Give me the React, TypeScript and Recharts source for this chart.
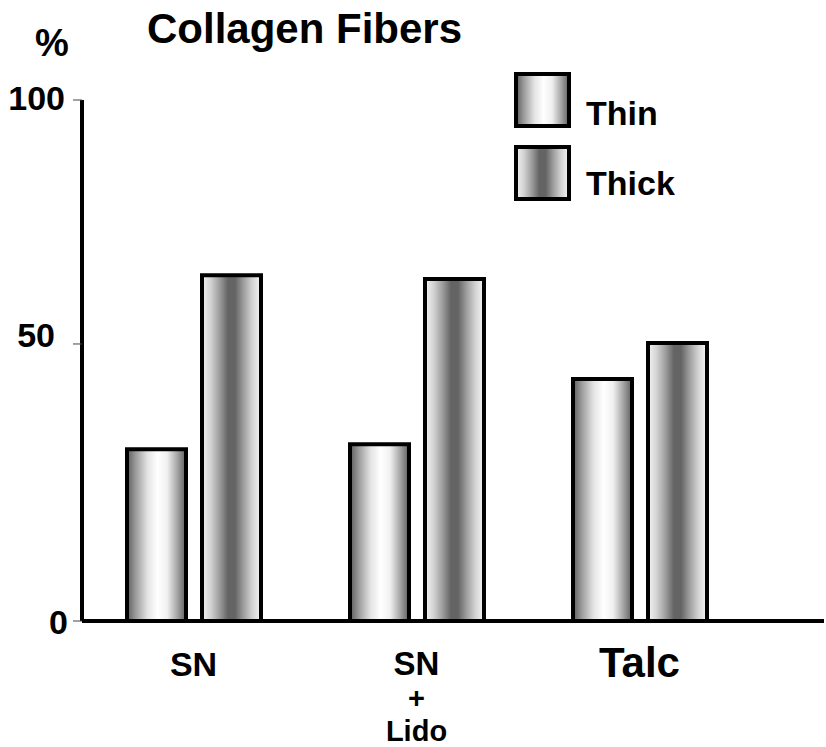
import React from 'react';
import { BarChart, Bar, XAxis, YAxis, Legend } from 'recharts';

// ---------- data ----------
const categories = ['SN', 'SN\n+\nLido', 'Talc'];
const thinValues = [31.0, 31.9, 43.7];
const thickValues = [64.1, 63.3, 50.2];
const yTicks = [0, 50, 100];
const seriesNames = ['Thin', 'Thick'];
const titleText = 'Collagen Fibers';
const unitText = '%';

// the reference's value axis is unevenly spaced: 0-50 takes a larger share of the height than 50-100
const yKnots = [0, 50, 100];
const yKnotFractions = [0, 0.5317, 1];

const data = categories.map((c, i) => ({ category: c, thin: thinValues[i], thick: thickValues[i] }));

const FONT = '"Liberation Sans", Arial, Helvetica, sans-serif';

function makeKnotScale(knots: number[], fr: number[]): any {
  let dom: number[] = [knots[0], knots[knots.length - 1]];
  let rng: number[] = [0, 1];
  const k0 = knots[0];
  const kN = knots[knots.length - 1];
  const frac = (v: number) => {
    const kv = k0 + ((v - dom[0]) / (dom[1] - dom[0])) * (kN - k0);
    for (let i = 0; i < knots.length - 1; i++) {
      if (kv <= knots[i + 1] || i === knots.length - 2) {
        const t = (kv - knots[i]) / (knots[i + 1] - knots[i]);
        return fr[i] + t * (fr[i + 1] - fr[i]);
      }
    }
    return 0;
  };
  const unfrac = (f: number) => {
    for (let i = 0; i < knots.length - 1; i++) {
      if (f <= fr[i + 1] || i === knots.length - 2) {
        const t = (f - fr[i]) / (fr[i + 1] - fr[i]);
        const kv = knots[i] + t * (knots[i + 1] - knots[i]);
        return dom[0] + ((kv - k0) / (kN - k0)) * (dom[1] - dom[0]);
      }
    }
    return dom[0];
  };
  const scale: any = (v: any) => rng[0] + frac(Number(v)) * (rng[1] - rng[0]);
  scale.domain = (d?: any[]) => {
    if (d === undefined) return dom.slice();
    dom = d.map(Number);
    return scale;
  };
  scale.range = (r?: any[]) => {
    if (r === undefined) return rng.slice();
    rng = r.map(Number);
    return scale;
  };
  scale.copy = () => makeKnotScale(knots, fr).domain(dom).range(rng);
  scale.invert = (y: number) => unfrac((y - rng[0]) / (rng[1] - rng[0]));
  scale.ticks = () => knots.slice();
  scale.tickFormat = () => (v: any) => String(v);
  scale.nice = () => scale;
  scale.clamp = () => scale;
  return scale;
}

const yScale = makeKnotScale(yKnots, yKnotFractions);

const thinStops: [number, string][] = [
  [0, '#5c5c5c'], [0.15, '#9c9c9c'], [0.35, '#e4e4e4'], [0.52, '#ffffff'],
  [0.68, '#f0f0f0'], [0.85, '#a6a6a6'], [1, '#5e5e5e'],
];
const thickStops: [number, string][] = [
  [0, '#f4f4f4'], [0.15, '#d2d2d2'], [0.3, '#9c9c9c'], [0.44, '#646464'],
  [0.56, '#646464'], [0.7, '#9c9c9c'], [0.85, '#d2d2d2'], [1, '#f6f6f6'],
];

const Grad = ({ id, stops }: { id: string; stops: [number, string][] }) => (
  <linearGradient id={id} x1="0" y1="0" x2="1" y2="0">
    {stops.map(([o, c]) => (
      <stop key={o} offset={o} stopColor={c} />
    ))}
  </linearGradient>
);

const yLabelNudge: Record<string, { dx: number; dy: number }> = {
  '0': { dx: 3, dy: 13 },
  '50': { dx: -10, dy: 3 },
  '100': { dx: 0, dy: 10 },
};

const YTick = (props: any) => {
  const { x, y, payload } = props;
  const label = String(payload.value);
  const n = yLabelNudge[label] || { dx: 0, dy: 12 };
  return (
    <text x={x + n.dx} y={y + n.dy} textAnchor="end" fontFamily={FONT} fontWeight="bold" fontSize={34} fill="#000">
      {label}
    </text>
  );
};

const xFontSize: Record<string, number> = { Talc: 42 };

const XTick = (props: any) => {
  const { x, y, payload } = props;
  const lines = String(payload.value).split('\n');
  const multi = lines.length > 1;
  const fs = !multi && xFontSize[lines[0]] ? xFontSize[lines[0]] : multi ? 33 : 34;
  const baseDy = multi ? 54 : fs > 34 ? 56 : 55;
  return (
    <text x={x} y={y + baseDy} textAnchor="middle" fontFamily={FONT} fontWeight="bold" fontSize={fs} fill="#000">
      {lines.map((ln, i) => (
        <tspan key={i} x={x} dy={i === 0 ? 0 : i === 1 ? 33.3 : 32.3} fontSize={i === 0 ? fs : 29}>
          {ln}
        </tspan>
      ))}
    </text>
  );
};

const LegendContent = () => (
  <svg width={200} height={150} style={{ display: 'block' }}>
    <defs>
      <Grad id="legThin" stops={thinStops} />
      <Grad id="legThick" stops={thickStops} />
    </defs>
    {seriesNames.map((name, i) => (
      <g key={name}>
        <rect
          x={7}
          y={9 + i * 73}
          width={53}
          height={52}
          fill={i === 0 ? 'url(#legThin)' : 'url(#legThick)'}
          stroke="#000"
          strokeWidth={4}
        />
        <text x={77} y={60 + i * 70} fontFamily={FONT} fontWeight="bold" fontSize={34} fill="#000">
          {name}
        </text>
      </g>
    ))}
  </svg>
);

export default function App() {
  return (
    <div style={{ position: 'absolute', left: 0, top: 0, width: 826, height: 747, background: '#fff' }}>
      <BarChart
        width={826}
        height={747}
        data={data}
        margin={{ top: 100, right: 2, bottom: 0, left: 0 }}
        barSize={59}
        barGap={16}
      >
        <defs>
          <Grad id="thinGrad" stops={thinStops} />
          <Grad id="thickGrad" stops={thickStops} />
        </defs>
        <text x={147} y={43} fontFamily={FONT} fontWeight="bold" fontSize={42} fill="#000">
          {titleText}
        </text>
        <text x={35} y={56} fontFamily={FONT} fontWeight="bold" fontSize={38} fill="#000">
          {unitText}
        </text>
        <XAxis
          dataKey="category"
          type="category"
          height={126}
          padding={{ left: 0, right: 73 }}
          axisLine={{ stroke: '#000', strokeWidth: 4 }}
          tickLine={false}
          tickSize={0}
          tickMargin={0}
          interval={0}
          tick={<XTick />}
        />
        <YAxis
          type="number"
          width={82}
          domain={[0, 100]}
          ticks={yTicks}
          scale={yScale}
          interval={0}
          axisLine={{ stroke: '#000', strokeWidth: 4 }}
          tickLine={{ stroke: '#444', strokeWidth: 1 }}
          tickSize={9}
          tickMargin={8}
          tick={<YTick />}
        />
        <Legend
          layout="vertical"
          align="center"
          verticalAlign="middle"
          content={<LegendContent />}
          wrapperStyle={{ position: 'absolute', left: 509, top: 65, width: 200, height: 150 }}
        />
        <Bar dataKey="thin" name={seriesNames[0]} fill="url(#thinGrad)" stroke="#000" strokeWidth={4} isAnimationActive={false} />
        <Bar dataKey="thick" name={seriesNames[1]} fill="url(#thickGrad)" stroke="#000" strokeWidth={4} isAnimationActive={false} />
      </BarChart>
    </div>
  );
}
